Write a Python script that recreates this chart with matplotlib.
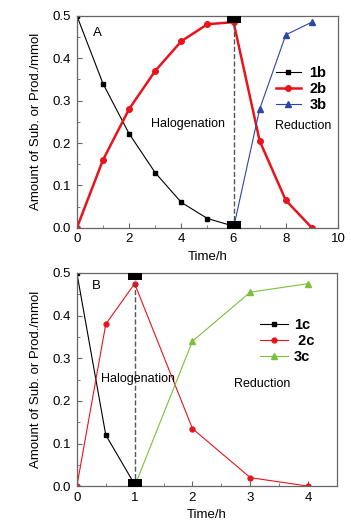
import matplotlib
matplotlib.use("Agg")
import matplotlib.pyplot as plt
from matplotlib.ticker import MultipleLocator

plt.rcParams["font.family"] = ["Liberation Sans", "DejaVu Sans"]

# Panel A data
t_1b = [0, 1, 2, 3, 4, 5, 6]
y_1b = [0.5, 0.34, 0.222, 0.13, 0.06, 0.022, 0.004]
t_2b = [0, 1, 2, 3, 4, 5, 6, 7, 8, 9]
y_2b = [0.0, 0.16, 0.28, 0.37, 0.44, 0.48, 0.485, 0.205, 0.065, 0.0]
t_3b = [6, 7, 8, 9]
y_3b = [0.0, 0.28, 0.455, 0.485]

# Panel B data
t_1c = [0, 0.5, 1]
y_1c = [0.5, 0.12, 0.004]
t_2c = [0, 0.5, 1, 2, 3, 4]
y_2c = [0.0, 0.38, 0.475, 0.135, 0.02, 0.0]
t_3c = [1, 2, 3, 4]
y_3c = [0.0, 0.34, 0.455, 0.475]

FRAME = "#666666"


def style_axes(ax, xmax, xmaj, xmin):
    ax.set_xlim(0, xmax)
    ax.set_ylim(0, 0.5)
    ax.xaxis.set_major_locator(MultipleLocator(xmaj))
    ax.xaxis.set_minor_locator(MultipleLocator(xmin))
    ax.yaxis.set_major_locator(MultipleLocator(0.1))
    ax.yaxis.set_minor_locator(MultipleLocator(0.05))
    ax.yaxis.set_major_formatter(plt.FormatStrFormatter("%.1f"))
    ax.tick_params(which="both", direction="in", labelsize=9.5, color=FRAME,
                   top=False, right=False, pad=4)
    ax.tick_params(which="major", length=3.5)
    ax.tick_params(which="minor", length=2)
    for s in ax.spines.values():
        s.set_color(FRAME)
        s.set_linewidth(0.9)
    ax.set_xlabel("Time/h", fontsize=9.5, labelpad=4)
    ax.set_ylabel("Amount of Sub. or Prod./mmol", fontsize=9.5, labelpad=8)


def phase_marks(ax, x):
    ax.plot([x, x], [0, 0.5], ls="--", color="#555555", lw=1.0, zorder=2)
    ax.plot([x, x], [0, 0.5], ls="none", marker="s", ms=9.5, color="black",
            markeredgewidth=0, zorder=4, clip_on=True)


fig = plt.figure(figsize=(3.51, 5.25), dpi=100)
axA = fig.add_axes([0.219, 0.566, 0.744, 0.404])
axB = fig.add_axes([0.219, 0.074, 0.741, 0.406])

# Panel A
axA.plot(t_1b, y_1b, color="black", lw=0.8, marker="s", ms=3, label="1b")
axA.plot(t_2b, y_2b, color="#e8141c", lw=1.8, marker="o", ms=4, label="2b")
axA.plot(t_3b, y_3b, color="#2a46a8", lw=0.8, marker="^", ms=5, label="3b")
phase_marks(axA, 6)
style_axes(axA, 10, 2, 1)
axA.text(0.8, 0.46, "A", fontsize=9.5, ha="center", va="center")
axA.text(4.25, 0.245, "Halogenation", fontsize=9, ha="center", va="center")
axA.text(8.65, 0.24, "Reduction", fontsize=9, ha="center", va="center")
axA.legend(loc="upper left", bbox_to_anchor=(0.74, 0.79), frameon=False,
           prop={"weight": "bold", "size": 10.5}, handlelength=1.7,
           labelspacing=0.15, handletextpad=0.6, borderaxespad=0.0)

# Panel B
axB.plot(t_1c, y_1c, color="black", lw=0.8, marker="s", ms=3, label="1c")
axB.plot(t_2c, y_2c, color="#e8141c", lw=0.8, marker="o", ms=3.5, label=" 2c")
axB.plot(t_3c, y_3c, color="#7cc03a", lw=0.8, marker="^", ms=5, label="3c")
phase_marks(axB, 1)
style_axes(axB, 4.5, 1, 0.5)
axB.text(0.33, 0.47, "B", fontsize=9.5, ha="center", va="center")
axB.text(1.06, 0.251, "Halogenation", fontsize=9, ha="center", va="center")
axB.text(3.2, 0.24, "Reduction", fontsize=9, ha="center", va="center")
axB.legend(loc="upper left", bbox_to_anchor=(0.683, 0.817), frameon=False,
           prop={"weight": "bold", "size": 10.5}, handlelength=1.9,
           labelspacing=0.15, handletextpad=0.4, borderaxespad=0.0)

fig.savefig("out.png", dpi=100)
